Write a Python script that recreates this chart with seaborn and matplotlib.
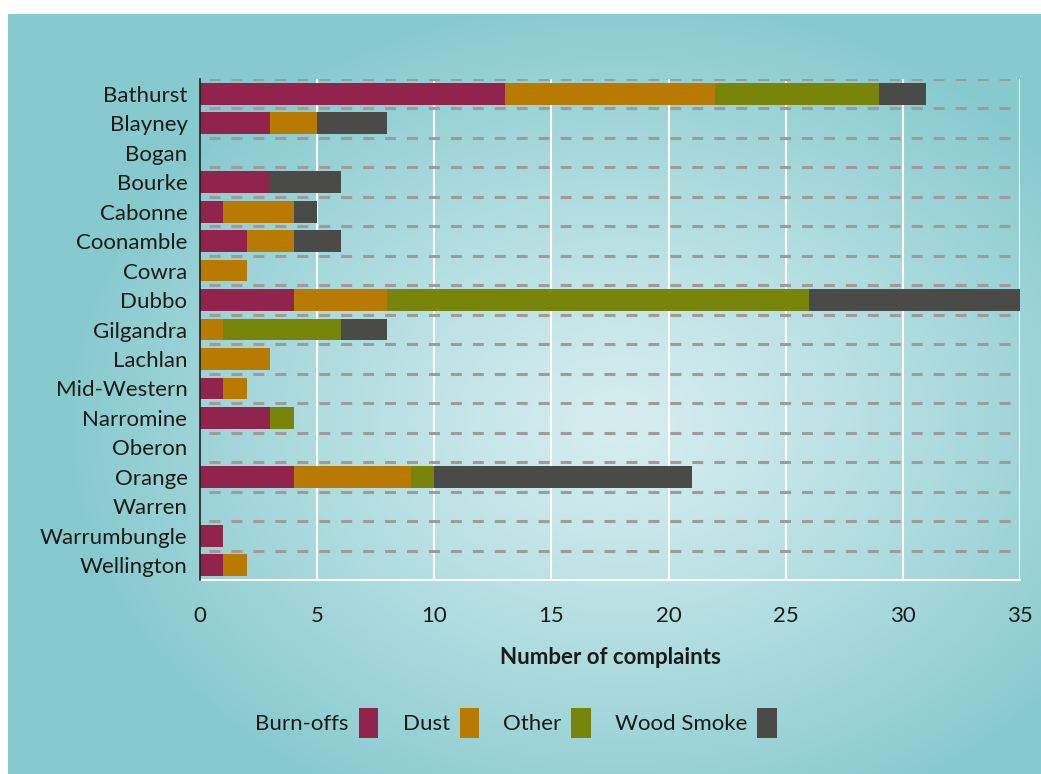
import numpy as np
import pandas as pd
import seaborn as sns
import matplotlib.pyplot as plt
from matplotlib.patches import Patch

councils = ["Bathurst", "Blayney", "Bogan", "Bourke", "Cabonne", "Coonamble", "Cowra",
            "Dubbo", "Gilgandra", "Lachlan", "Mid-Western", "Narromine", "Oberon",
            "Orange", "Warren", "Warrumbungle", "Wellington"]
burn_offs = [13, 3, 0, 3, 1, 2, 0, 4, 0, 0, 1, 3, 0, 4, 0, 1, 1]
dust = [9, 2, 0, 0, 3, 2, 2, 4, 1, 3, 1, 0, 0, 5, 0, 0, 1]
other = [7, 0, 0, 0, 0, 0, 0, 18, 5, 0, 0, 1, 0, 1, 0, 0, 0]
wood_smoke = [2, 3, 0, 3, 1, 2, 0, 9, 2, 0, 0, 0, 0, 11, 0, 0, 0]

series = ["Burn-offs", "Dust", "Other", "Wood Smoke"]
colors = ["#92234c", "#b87a00", "#78840a", "#4a4a49"]
x_ticks = [0, 5, 10, 15, 20, 25, 30, 35]

df = pd.DataFrame({"council": councils, "Burn-offs": burn_offs, "Dust": dust,
                   "Other": other, "Wood Smoke": wood_smoke})
# cumulative sums so the bars can be layered as a stack
cum = df[series].cumsum(axis=1)

sns.set_style("white")
plt.rcParams["font.family"] = ["Lato", "DejaVu Sans"]
plt.rcParams["lines.scale_dashes"] = False

fig = plt.figure(figsize=(10.41, 7.74), dpi=100, facecolor="white")

# radial teal background
bg = fig.add_axes([8 / 1041, 0, 1 - 8 / 1041, 1 - 14 / 774], zorder=-10)
W, H = 1033, 760
xx, yy = np.meshgrid(np.arange(W), np.arange(H))
r = np.sqrt(((xx - 612) / 560.0) ** 2 + ((yy - 410) / 430.0) ** 2)
t = np.clip(r, 0, 1) ** 1.2
c0 = np.array([214, 237, 239]) / 255
c1 = np.array([134, 202, 206]) / 255
img = c0[None, None, :] * (1 - t[..., None]) + c1[None, None, :] * t[..., None]
bg.imshow(img, aspect="auto", interpolation="bilinear")
bg.axis("off")

ax = fig.add_axes([200 / 1041, 1 - 580 / 774, 820 / 1041, 501 / 774])
ax.patch.set_alpha(0)

for i in range(len(series) - 1, -1, -1):
    sns.barplot(x=cum[series[i]].values, y=df["council"], orient="h", color=colors[i],
                saturation=1, width=0.74, linewidth=0, ax=ax, zorder=3)

ax.set_xlim(0, 35)
ax.set_ylim(len(councils) - 0.5, -0.5)
ax.set_xticks(x_ticks)
ax.set_xticklabels([str(v) for v in x_ticks])

for v in x_ticks[1:]:
    ax.axvline(v, color="white", lw=1.5, zorder=1)
for k in range(len(councils)):
    ax.hlines(k - 0.5, 0.4, 34.6, colors="#9c9c9c", lw=2.2, linestyles=(0, (7.9, 7.9)), zorder=2)

for s in ["top", "right"]:
    ax.spines[s].set_visible(False)
ax.spines["left"].set_color("#222222")
ax.spines["left"].set_linewidth(1.2)
ax.spines["left"].set_zorder(4)
ax.spines["bottom"].set_color("white")
ax.spines["bottom"].set_linewidth(1.5)

ax.tick_params(axis="both", length=0, labelsize=16, colors="#1a1a1a")
ax.tick_params(axis="x", pad=19)
ax.tick_params(axis="y", pad=9)
ax.set_ylabel("")
ax.set_xlabel("Number of complaints", fontsize=16, fontweight="bold", color="#1a1a1a",
              labelpad=15)

handles = [Patch(facecolor=c, edgecolor="none", label=s) for s, c in zip(series, colors)]
fig.legend(handles=handles, loc="center", bbox_to_anchor=(516 / 1041, 1 - 723 / 774),
           ncol=4, frameon=False, markerfirst=False, fontsize=16, handlelength=0.86,
           handleheight=1.7, handletextpad=0.45, columnspacing=1.1, labelcolor="#1a1a1a")

fig.savefig("out.png", dpi=100, facecolor="white")
